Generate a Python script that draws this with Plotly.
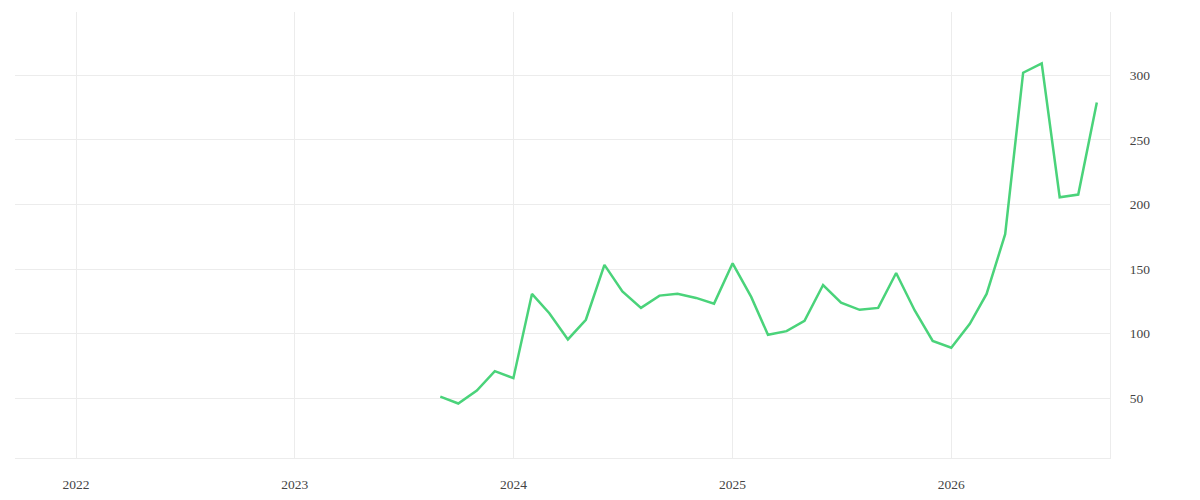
import plotly.graph_objects as go

# monthly values, Sep 2023 - Sep 2026
months = [
    "2023-09-01", "2023-10-01", "2023-11-01", "2023-12-01",
    "2024-01-01", "2024-02-01", "2024-03-01", "2024-04-01", "2024-05-01", "2024-06-01",
    "2024-07-01", "2024-08-01", "2024-09-01", "2024-10-01", "2024-11-01", "2024-12-01",
    "2025-01-01", "2025-02-01", "2025-03-01", "2025-04-01", "2025-05-01", "2025-06-01",
    "2025-07-01", "2025-08-01", "2025-09-01", "2025-10-01", "2025-11-01", "2025-12-01",
    "2026-01-01", "2026-02-01", "2026-03-01", "2026-04-01", "2026-05-01", "2026-06-01",
    "2026-07-01", "2026-08-01", "2026-09-01",
]
values = [
    51.3, 46, 56, 71,
    65.6, 130.8, 115.9, 95.6, 110.8, 153.3,
    132.8, 120, 129.5, 131, 127.7, 123.3,
    154.5, 128.5, 99.2, 102, 110, 137.7,
    124, 118.5, 120, 147, 118, 94.4,
    89.2, 107.7, 130.8, 177, 302, 309.2,
    205.6, 207.7, 279,
]
y_ticks = [50, 100, 150, 200, 250, 300]

grid = "#ececec"
font_family = "Liberation Serif, DejaVu Serif, serif"

fig = go.Figure(go.Scatter(
    x=months,
    y=values,
    mode="lines",
    line=dict(color="#4ad37a", width=2.5),
    hoverinfo="x+y",
))

fig.update_layout(
    width=1200,
    height=500,
    margin=dict(l=7, r=98, t=4, b=50),
    plot_bgcolor="white",
    paper_bgcolor="white",
    showlegend=False,
    font=dict(family=font_family, size=13.5, color="#444"),
)

fig.update_xaxes(
    type="date",
    range=["2021-09-21", "2026-09-23"],
    dtick="M12",
    tick0="2022-01-01",
    tickformat="%Y",
    showgrid=True,
    gridcolor=grid,
    showline=True,
    linecolor=grid,
    zeroline=False,
    ticks="",
    ticklabelstandoff=14,
)

fig.update_yaxes(
    side="right",
    range=[3.8, 349],
    tickvals=y_ticks,
    showgrid=True,
    gridcolor=grid,
    showline=True,
    linecolor=grid,
    zeroline=False,
    ticks="",
    ticklabelstandoff=16,
)

fig.write_html("out.html")
